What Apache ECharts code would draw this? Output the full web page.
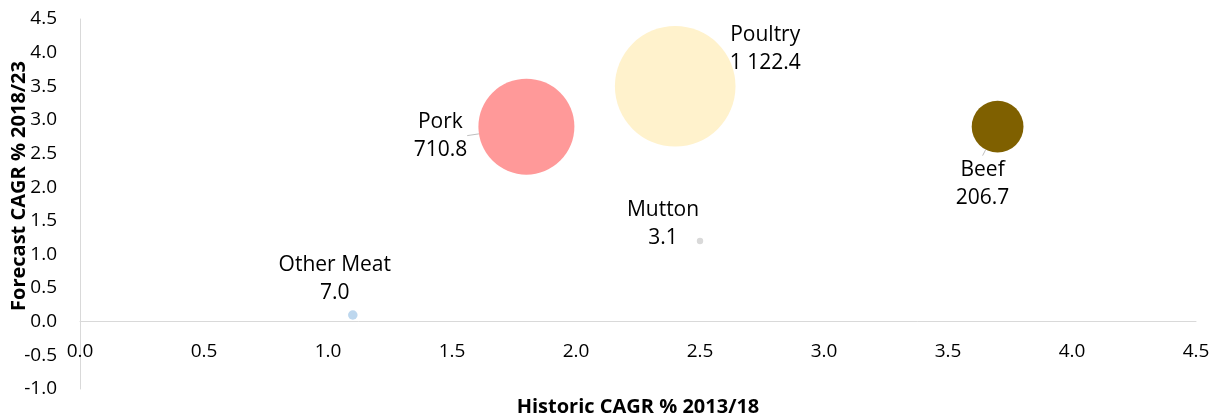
<!DOCTYPE html>
<html>
<head>
<meta charset="utf-8">
<script src="https://cdn.jsdelivr.net/npm/echarts@6/dist/echarts.min.js"></script>
<style>
 html, body { margin: 0; padding: 0; background: #fff; }
 #chart { width: 1220px; height: 419px; }
</style>
</head>
<body>
<div id="chart"></div>
<script>
// meat categories: historic CAGR (x), forecast CAGR (y), bubble size
const names = ['Other Meat', 'Pork', 'Poultry', 'Mutton', 'Beef'];
const historic = [1.1, 1.8, 2.4, 2.5, 3.7];
const forecast = [0.1, 2.9, 3.5, 1.2, 2.9];
const sizes = [7.0, 710.8, 1122.4, 3.1, 206.7];

// styling per bubble
const colors = ['#BDD7EE', '#FF9999', '#FFF2CC', '#D9D9D9', '#7F6000'];
const labelShift = [[-18, -36], [-86, 9], [90, -37], [-37, -17], [-15, 57]];
const showLeader = [false, true, false, false, true];

const FONT = '"Open Sans", Lato, sans-serif';

function fmtSize(v) {
 const parts = v.toFixed(1).split('.');
 return parts[0].replace(/\B(?=(\d{3})+(?!\d))/g, ' ') + '.' + parts[1];
}

const chart = echarts.init(document.getElementById('chart'), null, { renderer: 'canvas' });

const data = names.map((n, i) => ({
 name: n,
 value: [historic[i], forecast[i], sizes[i]],
 symbolSize: 3.6 * Math.sqrt(sizes[i]),
 itemStyle: { color: colors[i], opacity: 1 },
 labelLine: { show: showLeader[i], lineStyle: { color: '#BFBFBF', width: 1 } },
}));

chart.setOption({
 backgroundColor: '#fff',
 animation: false,
 grid: { left: 80, right: 24, top: 19, bottom: 30, containLabel: false, outerBoundsMode: 'none' },
 xAxis: {
 type: 'value',
 min: 0, max: 4.5, interval: 0.5,
 name: 'Historic CAGR % 2013/18',
 nameLocation: 'middle',
 nameGap: 8,
 nameTextStyle: { fontFamily: FONT, fontSize: 20, fontWeight: 'bold', color: '#000' },
 axisLine: { onZero: true, lineStyle: { color: '#D9D9D9', width: 1 } },
 axisTick: { show: false },
 splitLine: { show: false },
 axisLabel: { margin: -47, fontFamily: FONT, fontSize: 19, color: '#000', formatter: v => v.toFixed(1) },
 },
 yAxis: {
 type: 'value',
 min: -1, max: 4.5, interval: 0.5,
 axisLine: { show: true, lineStyle: { color: '#D9D9D9', width: 1 } },
 axisTick: { show: false },
 splitLine: { show: false },
 axisLabel: { margin: 23, fontFamily: FONT, fontSize: 19, color: '#000', formatter: v => v.toFixed(1) },
 },
 graphic: [{
 type: 'text',
 x: 19, y: 186,
 rotation: Math.PI / 2,
 style: {
 text: 'Forecast CAGR % 2018/23',
 font: 'bold 20px ' + FONT,
 fill: '#000',
 align: 'center',
 verticalAlign: 'middle',
 },
 }],
 series: [{
 type: 'scatter',
 data,
 label: {
 show: true,
 position: 'inside',
 formatter: p => p.name + '\n' + fmtSize(p.value[2]),
 fontFamily: FONT,
 fontSize: 21,
 lineHeight: 28,
 color: '#000',
 align: 'center',
 verticalAlign: 'middle',
 },
 labelLayout: p => ({ dx: labelShift[p.dataIndex][0], dy: labelShift[p.dataIndex][1] }),
 emphasis: { disabled: true },
 }],
});
</script>
</body>
</html>
